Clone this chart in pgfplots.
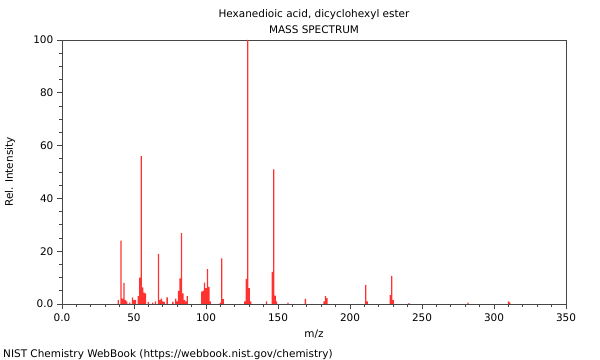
\documentclass[border=0pt]{standalone}
\usepackage{pgfplots}
\pgfplotsset{compat=1.18}
\usepackage{fontspec}
\setmainfont{DejaVu Sans}
\definecolor{peak}{RGB}{255,50,50}
\definecolor{axc}{RGB}{70,70,70}
\begin{document}
\fontsize{10.5}{12}\selectfont
\begin{tikzpicture}
\begin{axis}[
  name=ax,
  at={(0,0)}, anchor=south west,
  scale only axis,
  width=504bp, height=264bp,
  xmin=0, xmax=350, ymin=0, ymax=100,
  axis line style={axc, line width=0.8bp},
  xtick={0,50,...,350},
  xticklabels={0.0,50,100,150,200,250,300,350},
  minor x tick num=4,
  ytick={0,20,...,100},
  yticklabels={0.0,20,40,60,80,100},
  minor y tick num=3,
  tick align=outside,
  xtick pos=bottom, ytick pos=left,
  major tick length=5bp, minor tick length=3bp,
  tick style={axc, line width=0.8bp},
  /pgf/number format/assume math mode=true,
  ticklabel style={font=\fontsize{10.5}{12}\selectfont},
  xticklabel style={yshift=-1bp},
  clip=true,
]
\addplot[ybar, bar width=1.3bp, fill=peak, draw=none, mark=none] table {
x y
39 1.5
41 24
42 2
43 8
44 1.5
45 1
47 0.5
49 2.5
50 1.5
51 1.5
53 3
54 10
55 56
56 6.3
57 4.3
58 4
60 0.8
63 0.5
65 1
67 19
68 1.5
69 2
70 1
71 0.8
73 2.5
77 0.8
79 2
80 1
81 5
82 9.7
83 26.8
84 4
85 1.5
86 1
87 3
97 4.7
98 5
99 8.1
100 6
101 13.2
102 6.5
103 1
110 0.5
111 17.3
112 1.8
127 1
128 9.5
129 100
130 6
131 1
142 1
146 12.2
147 51
148 3.2
149 1
157 0.5
169 1.9
182 1
183 3
184 2.2
211 7.2
212 1
228 3.4
229 10.7
230 1.5
241 0.3
282 0.5
310 1
311 0.6
};
\end{axis}
\path ([xshift=-62bp,yshift=-56bp]ax.south west) rectangle ([xshift=34bp,yshift=40bp]ax.north east);
\node[anchor=base] at ([yshift=22bp]ax.north) {Hexanedioic acid, dicyclohexyl ester};
\node[anchor=base] at ([yshift=6bp]ax.north) {MASS SPECTRUM};
\node[anchor=base] at ([yshift=-33bp]ax.south) {m/z};
\node[rotate=90, anchor=center] at ([xshift=-52bp]ax.west) {Rel. Intensity};
\node[anchor=base west, inner sep=0pt] at ([xshift=-59bp,yshift=-53bp]ax.south west) {NIST Chemistry WebBook (https://webbook.nist.gov/chemistry)};
\end{tikzpicture}
\end{document}
